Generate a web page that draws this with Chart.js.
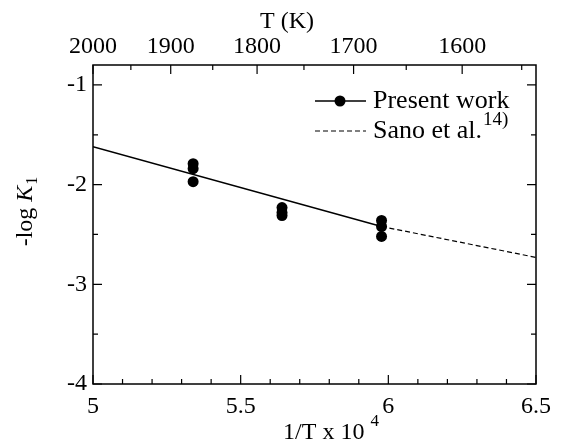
<!DOCTYPE html>
<html>
<head>
<meta charset="utf-8">
<title>-log K1 vs 1/T</title>
<script src="https://cdn.jsdelivr.net/npm/chart.js@4.4.1/dist/chart.umd.min.js"></script>
<style>
  html, body { margin: 0; padding: 0; background: #fff; }
  #wrap { width: 565px; height: 445px; }
</style>
</head>
<body>
<div id="wrap"><canvas id="chart" width="565" height="445"></canvas></div>
<script>
// measured points: 1/T x 10^4 and -log K1 (three runs per temperature)
const invTemp = [5.339, 5.339, 5.339, 5.640, 5.640, 5.640, 5.977, 5.977, 5.977];
const logK    = [-1.79, -1.84, -1.97, -2.23, -2.28, -2.31, -2.36, -2.42, -2.52];

// fitted line of this work, and Sano et al. extension
const fitX  = [5, 5.977];
const fitY  = [-1.62, -2.42];
const sanoX = [5.977, 6.5];
const sanoY = [-2.42, -2.73];

// axis ticks
const xTicks    = [5, 5.5, 6, 6.5];
const xMinor    = [5.1, 5.2, 5.3, 5.4, 5.6, 5.7, 5.8, 5.9, 6.1, 6.2, 6.3, 6.4];
const yTicks    = [-4, -3, -2, -1];
const yMinor    = [-3.5, -2.5, -1.5];
const tempTicks = [2000, 1900, 1800, 1700, 1600];
const tempMinor = [1950, 1850, 1750, 1650, 1550];

const SERIF = '"Liberation Serif", "DejaVu Serif", serif';

function pairs(xs, ys) {
    return xs.map((v, i) => ({ x: v, y: ys[i] }));
}

// frame, inward ticks, axis titles and the legend
const framePlugin = {
    id: 'frame',
    afterDraw(chart) {
        const ctx = chart.ctx;
        const a = chart.chartArea;
        const xs = chart.scales.x, ys = chart.scales.y;
        ctx.save();
        ctx.strokeStyle = '#000';
        ctx.fillStyle = '#000';

        ctx.lineWidth = 1.5;
        ctx.strokeRect(a.left, a.top, a.right - a.left, a.bottom - a.top);

        ctx.lineWidth = 1.2;
        ctx.beginPath();
        const tick = (px, py, dx, dy) => { ctx.moveTo(px, py); ctx.lineTo(px + dx, py + dy); };
        xTicks.forEach(v => tick(xs.getPixelForValue(v), a.bottom, 0, -9));
        xMinor.forEach(v => tick(xs.getPixelForValue(v), a.bottom, 0, -5));
        tempTicks.forEach(t => tick(xs.getPixelForValue(1e4 / t), a.top, 0, 9));
        tempMinor.forEach(t => tick(xs.getPixelForValue(1e4 / t), a.top, 0, 5));
        yTicks.forEach(v => {
            const p = ys.getPixelForValue(v);
            tick(a.left, p, 9, 0);
            tick(a.right, p, -9, 0);
        });
        yMinor.forEach(v => {
            const p = ys.getPixelForValue(v);
            tick(a.left, p, 5, 0);
            tick(a.right, p, -5, 0);
        });
        ctx.stroke();

        // top title
        ctx.font = '24px ' + SERIF;
        ctx.textBaseline = 'middle';
        ctx.textAlign = 'center';
        ctx.fillText('T (K)', 287, 22);

        // bottom title with superscript
        ctx.textAlign = 'left';
        const main = '1/T x 10 ';
        const w = ctx.measureText(main).width;
        ctx.font = '17px ' + SERIF;
        const ws = ctx.measureText('4').width;
        const x0 = 331 - (w + ws) / 2;
        ctx.font = '24px ' + SERIF;
        ctx.fillText(main, x0, 433);
        ctx.font = '17px ' + SERIF;
        ctx.fillText('4', x0 + w, 422);

        // left title, rotated: -log K1
        ctx.save();
        ctx.translate(26, 212);
        ctx.rotate(-Math.PI / 2);
        ctx.font = '24px ' + SERIF;
        const w1 = ctx.measureText('-log ').width;
        ctx.font = 'italic 24px ' + SERIF;
        const w2 = ctx.measureText('K').width;
        ctx.font = '16px ' + SERIF;
        const w3 = ctx.measureText('1').width;
        let lx = -(w1 + w2 + w3) / 2;
        ctx.font = '24px ' + SERIF;
        ctx.fillText('-log ', lx, 0);
        ctx.font = 'italic 24px ' + SERIF;
        ctx.fillText('K', lx + w1, 0);
        ctx.font = '16px ' + SERIF;
        ctx.fillText('1', lx + w1 + w2 + 1, 7);
        ctx.restore();

        // legend
        ctx.lineWidth = 1.5;
        ctx.beginPath();
        ctx.moveTo(315, 101);
        ctx.lineTo(366, 101);
        ctx.stroke();
        ctx.beginPath();
        ctx.arc(340, 101, 5.5, 0, Math.PI * 2);
        ctx.fill();
        ctx.lineWidth = 1.2;
        ctx.setLineDash([5, 3]);
        ctx.beginPath();
        ctx.moveTo(315, 131);
        ctx.lineTo(366, 131);
        ctx.stroke();
        ctx.setLineDash([]);

        ctx.font = '26px ' + SERIF;
        ctx.fillText('Present work', 373, 101);
        ctx.fillText('Sano et al.', 373, 131);
        const ws2 = ctx.measureText('Sano et al.').width;
        ctx.font = '19px ' + SERIF;
        ctx.fillText('14)', 373 + ws2 + 1, 120);
        ctx.restore();
    }
};

const tickFont = { family: SERIF, size: 24 };

new Chart(document.getElementById('chart'), {
    type: 'scatter',
    data: {
        datasets: [
            {
                label: 'Present work',
                data: pairs(invTemp, logK),
                showLine: false,
                pointRadius: 5.5,
                pointBackgroundColor: '#000',
                pointBorderWidth: 0
            },
            {
                label: 'fit',
                data: pairs(fitX, fitY),
                showLine: true,
                borderColor: '#000',
                borderWidth: 1.5,
                pointRadius: 0
            },
            {
                label: 'Sano et al.',
                data: pairs(sanoX, sanoY),
                showLine: true,
                borderColor: '#000',
                borderWidth: 1.2,
                borderDash: [5, 3],
                pointRadius: 0
            }
        ]
    },
    options: {
        responsive: false,
        animation: false,
        layout: { padding: { left: 0, right: 29, top: 0, bottom: 0 } },
        plugins: {
            legend: { display: false },
            tooltip: { enabled: false }
        },
        scales: {
            x: {
                type: 'linear',
                position: 'bottom',
                min: 5,
                max: 6.5,
                afterBuildTicks: s => { s.ticks = xTicks.map(v => ({ value: v })); },
                afterFit: s => { s.height = 61; },
                grid: { display: false, drawTicks: false },
                border: { display: false },
                ticks: {
                    font: tickFont, color: '#000', padding: 8, maxRotation: 0,
                    callback: v => String(v)
                }
            },
            x2: {
                type: 'linear',
                position: 'top',
                min: 5,
                max: 6.5,
                afterBuildTicks: s => { s.ticks = tempTicks.map(t => ({ value: 1e4 / t })); },
                afterFit: s => { s.height = 65; },
                grid: { display: false, drawTicks: false },
                border: { display: false },
                ticks: {
                    font: tickFont, color: '#000', padding: 4, maxRotation: 0,
                    callback: v => String(Math.round(1e4 / v))
                }
            },
            y: {
                type: 'linear',
                position: 'left',
                min: -4,
                max: -0.8,
                afterBuildTicks: s => { s.ticks = yTicks.map(v => ({ value: v })); },
                afterFit: s => { s.width = 93; },
                grid: { display: false, drawTicks: false },
                border: { display: false },
                ticks: { font: tickFont, color: '#000', padding: 6 }
            }
        }
    },
    plugins: [framePlugin]
});
</script>
</body>
</html>
